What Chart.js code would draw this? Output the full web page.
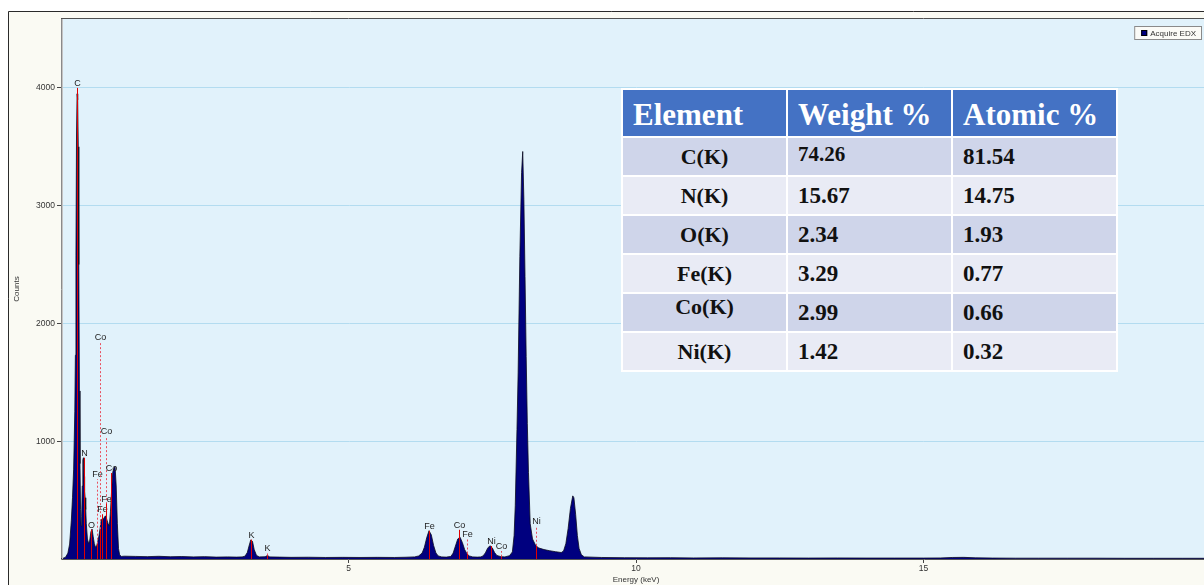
<!DOCTYPE html>
<html>
<head>
<meta charset="utf-8">
<title>EDX spectrum</title>
<script src="https://cdn.jsdelivr.net/npm/chart.js@4.4.1/dist/chart.umd.min.js"></script>
<style>
  html, body { margin: 0; padding: 0; background: #fff; overflow: hidden; width: 1204px; height: 585px; }
  #wrap { position: relative; width: 1215px; height: 585px; }
  #wrap canvas { position: absolute; left: 0; top: 0; }
  #quant {
    position: absolute; left: 621px; top: 88px;
    display: grid; grid-template-columns: 163px 163px 163px;
    grid-template-rows: 46px repeat(6, 37px);
    gap: 2px; padding: 2px; background: #fff;
    font-family: "Liberation Serif", "Times New Roman", serif; font-weight: bold; color: #111;
  }
  #quant div { display: flex; align-items: center; box-sizing: border-box; white-space: nowrap; }
  #quant .hd { background: #4472c4; color: #fff; font-size: 31px; padding: 3px 0 0 10px; }
  #quant .el { justify-content: center; font-size: 22px; }
  #quant .num { font-size: 23px; padding-left: 10px; }
  #quant .dark { background: #cfd5ea; }
  #quant .light { background: #e9ebf5; }
</style>
</head>
<body>
<div id="wrap">
  <canvas id="edx" width="1215" height="585"></canvas>
  <div id="quant"></div>
</div>
<script>
// Spectrum: energy channels (keV) and counts
const energyKeV = [
  0.00, 0.03, 0.08, 0.12, 0.15, 0.18, 0.20, 0.22, 0.24, 0.25, 0.26, 0.27, 0.28, 0.29, 0.30, 0.31, 0.32, 0.33, 0.34, 0.35,
  0.36, 0.37, 0.38, 0.39, 0.40, 0.41, 0.42, 0.43, 0.44, 0.46, 0.48, 0.50, 0.52, 0.54, 0.56, 0.58, 0.60, 0.62, 0.64,
  0.66, 0.68, 0.70, 0.72, 0.74, 0.76, 0.78, 0.80, 0.82, 0.84, 0.86, 0.88, 0.90, 0.92, 0.94, 0.96, 0.98, 1.00, 1.02,
  1.05, 1.10, 1.3, 1.5, 1.7, 1.9, 2.1, 2.3, 2.5, 2.7, 2.9, 3.05, 3.15,
  3.20, 3.24, 3.27, 3.30, 3.33, 3.36, 3.40, 3.45, 3.55, 3.59, 3.63, 3.8, 4.0, 4.3, 4.6, 4.9, 5.2, 5.5, 5.8, 6.0, 6.15,
  6.22, 6.28, 6.32, 6.36, 6.40, 6.44, 6.48, 6.52, 6.56, 6.62, 6.70,
  6.78, 6.82, 6.86, 6.90, 6.94, 6.98, 7.02, 7.06, 7.10, 7.16, 7.24, 7.30,
  7.34, 7.38, 7.42, 7.46, 7.50, 7.54, 7.58, 7.65, 7.72,
  7.80, 7.85, 7.88, 7.90, 7.93, 7.95, 7.98, 8.01, 8.03, 8.05, 8.07, 8.09, 8.11, 8.13, 8.16, 8.20, 8.25, 8.30,
  8.40, 8.50, 8.60, 8.70,
  8.74, 8.78, 8.82, 8.86, 8.90, 8.92, 8.95, 8.98, 9.01, 9.05, 9.10,
  9.4, 9.8, 10.2, 10.6, 11.0, 11.5, 12.0, 12.5, 13.0, 13.5, 14.0, 14.5, 15.0, 15.3, 15.5, 15.7, 15.9,
  16.2, 16.6, 17.0, 17.5, 18.0, 18.5, 19.0, 19.5, 20.0
];
const counts = [
  0, 5, 15, 50, 127, 330, 520, 763, 1250, 1730, 2580, 3600, 3950, 3900, 3500, 2500, 1427, 810, 420, 280,
  360, 620, 840, 860, 700, 580, 520, 420, 300, 170, 130, 160, 230, 254, 190, 130, 100, 110, 150,
  195, 260, 330, 345, 340, 360, 365, 330, 300, 280, 400, 580, 737, 770, 788, 620, 300, 90, 35,
  22, 24, 22, 20, 23, 19, 21, 18, 20, 16, 18, 16, 18,
  24, 55, 110, 162, 150, 80, 30, 18, 19, 30, 18, 16, 14, 15, 13, 14, 13, 14, 13, 15, 18,
  26, 50, 100, 180, 240, 205, 115, 52, 26, 18, 16,
  22, 50, 110, 170, 185, 140, 80, 45, 26, 18, 16, 18,
  26, 52, 92, 113, 95, 55, 30, 20, 18,
  28, 60, 200, 452, 1100, 1580, 2570, 3280, 3460, 3050, 2400, 1720, 1150, 735, 300, 170, 120, 95,
  80, 70, 62, 55,
  68, 130, 260, 430, 536, 520, 380, 200, 90, 36, 18,
  13, 11, 10, 11, 9, 10, 9, 9, 8, 9, 8, 8, 8, 9, 13, 14, 10,
  8, 7, 7, 7, 7, 6, 6, 6, 6
];
const seriesName = 'Acquire EDX';

// Element line markers: label, line energy (keV), marker height (counts)
const lineLabels   = ['C', 'N', 'O', 'Fe', 'Co', 'Fe', 'Co', 'Fe', 'Co', 'K', 'K', 'Fe', 'Co', 'Fe', 'Ni', 'Co', 'Ni'];
const lineEnergies = [0.277, 0.392, 0.525, 0.630, 0.678, 0.705, 0.776, 0.790, 0.870, 3.313, 3.590, 6.400, 6.930, 7.058, 7.478, 7.649, 8.265];
const lineHeights  = [4000, 860, 250, 680, 1840, 380, 1040, 470, 730, 165, 55, 240, 248, 170, 110, 68, 280];

// Axis ticks
const energyTicks = [5, 10, 15];
const countTicks = [1000, 2000, 3000, 4000];

// Quantification table
const tableHeaders = ['Element', 'Weight %', 'Atomic %'];
const tableElements = ['C(K)', 'N(K)', 'O(K)', 'Fe(K)', 'Co(K)', 'Ni(K)'];
const weightPercent = ['74.26', '15.67', '2.34', '3.29', '2.99', '1.42'];
const atomicPercent = ['81.54', '14.75', '1.93', '0.77', '0.66', '0.32'];

// Build the quantification table
(function buildTable() {
  const box = document.getElementById('quant');
  tableHeaders.forEach(h => {
    const d = document.createElement('div');
    d.className = 'hd';
    d.textContent = h;
    box.appendChild(d);
  });
  tableElements.forEach((el, i) => {
    const shade = i % 2 === 0 ? 'dark' : 'light';
    const cells = [[el, 'el'], [weightPercent[i], 'num'], [atomicPercent[i], 'num']];
    cells.forEach(([txt, cls], j) => {
      const d = document.createElement('div');
      d.className = cls + ' ' + shade;
      const s = document.createElement('span');
      s.textContent = txt;
      if (el === 'Co(K)' && j === 0) s.style.transform = 'translateY(-6px)';
      if (i === 0 && j === 1) { s.style.fontSize = '21px'; s.style.transform = 'translateY(-2px)'; }
      d.appendChild(s);
      box.appendChild(d);
    });
  });
})();

function spectrumAt(e) {
  for (let i = 1; i < energyKeV.length; i++) {
    if (energyKeV[i] >= e) {
      const t = (e - energyKeV[i - 1]) / (energyKeV[i] - energyKeV[i - 1]);
      return counts[i - 1] + t * (counts[i] - counts[i - 1]);
    }
  }
  return 0;
}

// Frame, panel background and plot border
const framePlugin = {
  id: 'frame',
  beforeDraw(chart) {
    const { ctx, width, height, chartArea: a } = chart;
    ctx.save();
    ctx.fillStyle = '#ffffff';
    ctx.fillRect(0, 0, width, height);
    ctx.fillStyle = '#fafaf3';
    ctx.fillRect(8, 11, width - 8, height - 11);
    ctx.strokeStyle = '#2a2a2a';
    ctx.lineWidth = 1;
    ctx.beginPath();
    ctx.moveTo(8.5, height);
    ctx.lineTo(8.5, 11.5);
    ctx.lineTo(width, 11.5);
    ctx.stroke();
    ctx.fillStyle = '#e1f2fb';
    ctx.fillRect(a.left, a.top, a.right - a.left, a.bottom - a.top);
    ctx.restore();
  },
  afterDraw(chart) {
    const { ctx, chartArea: a } = chart;
    ctx.save();
    ctx.lineWidth = 1;
    ctx.strokeStyle = '#505050';
    ctx.beginPath();
    ctx.moveTo(a.left, a.top - 0.5);
    ctx.lineTo(a.right, a.top - 0.5);
    ctx.stroke();
    ctx.strokeStyle = '#c4c4c4';
    ctx.beginPath();
    ctx.moveTo(a.left + 1.5, a.top);
    ctx.lineTo(a.left + 1.5, a.bottom);
    ctx.stroke();
    ctx.restore();
  }
};

// Element line markers with labels
const markerPlugin = {
  id: 'markers',
  afterDatasetsDraw(chart) {
    const { ctx, scales: { x, y } } = chart;
    const base = y.getPixelForValue(0);
    ctx.save();
    ctx.lineWidth = 1;
    lineLabels.forEach((lab, i) => {
      const px = Math.round(x.getPixelForValue(lineEnergies[i])) + 0.5;
      const h = lineHeights[i];
      const spec = spectrumAt(lineEnergies[i]);
      const solidTop = spec >= 0.6 * h ? h : spec;
      const ySolid = y.getPixelForValue(solidTop);
      const yTop = y.getPixelForValue(h);
      ctx.setLineDash([]);
      ctx.strokeStyle = '#e00000';
      ctx.beginPath();
      ctx.moveTo(px, base);
      ctx.lineTo(px, ySolid);
      ctx.stroke();
      if (ySolid > yTop + 0.5) {
        ctx.setLineDash([2, 2]);
        ctx.strokeStyle = '#e8505f';
        ctx.beginPath();
        ctx.moveTo(px, ySolid);
        ctx.lineTo(px, yTop);
        ctx.stroke();
      }
      ctx.setLineDash([]);
      ctx.fillStyle = '#222';
      ctx.font = '9px "Liberation Sans", Arial, sans-serif';
      ctx.textAlign = 'center';
      ctx.textBaseline = 'bottom';
      ctx.fillText(lab, px, yTop);
    });
    ctx.restore();
  }
};

// Boxed series legend in the top-right corner
const legendPlugin = {
  id: 'boxLegend',
  afterDraw(chart) {
    const { ctx } = chart;
    const ds = chart.data.datasets[0];
    ctx.save();
    ctx.font = '8px "Liberation Sans", Arial, sans-serif';
    const tw = ctx.measureText(ds.label).width;
    const right = 1202, top = 26, h = 14;
    const w = tw + 22;
    const left = right - w;
    ctx.fillStyle = '#fbfbf7';
    ctx.fillRect(left, top, w, h);
    ctx.strokeStyle = '#8a8a8a';
    ctx.lineWidth = 1;
    ctx.strokeRect(left + 0.5, top + 0.5, w - 1, h - 1);
    ctx.fillStyle = ds.backgroundColor;
    ctx.fillRect(left + 7, top + 4, 6, 6);
    ctx.strokeStyle = '#000';
    ctx.strokeRect(left + 7.5, top + 4.5, 5, 5);
    ctx.fillStyle = '#333';
    ctx.textBaseline = 'middle';
    ctx.textAlign = 'left';
    ctx.fillText(ds.label, left + 16, top + h / 2 + 0.5);
    ctx.restore();
  }
};

const tickFont = { family: '"Liberation Sans", Arial, sans-serif', size: 8.5 };
const titleFont = { family: '"Liberation Sans", Arial, sans-serif', size: 8 };

new Chart(document.getElementById('edx').getContext('2d'), {
  type: 'line',
  data: {
    datasets: [{
      label: seriesName,
      data: energyKeV.map((e, i) => ({ x: e, y: counts[i] })),
      fill: 'origin',
      backgroundColor: '#00007f',
      borderColor: '#0a0a20',
      borderWidth: 0.8,
      pointRadius: 0,
      tension: 0
    }]
  },
  options: {
    responsive: false,
    animation: false,
    devicePixelRatio: 1,
    layout: { padding: { left: 8, top: 19, right: 4, bottom: 0 } },
    plugins: { legend: { display: false }, tooltip: { enabled: false } },
    scales: {
      x: {
        type: 'linear', min: 0, max: 20,
        afterFit(s) { s.height = 26; },
        afterBuildTicks(s) { s.ticks = energyTicks.map(v => ({ value: v })); },
        ticks: { font: tickFont, color: '#333', padding: 1, maxRotation: 0, autoSkip: false, callback: v => String(v) },
        grid: { drawOnChartArea: false, drawTicks: true, tickLength: 4, tickColor: '#444' },
        border: { color: '#555', width: 1 },
        title: { display: true, text: 'Energy (keV)', font: titleFont, color: '#333', padding: { top: 0, bottom: 0 } }
      },
      y: {
        type: 'linear', min: 0, max: 4585,
        afterFit(s) { s.width = 53; },
        afterBuildTicks(s) { s.ticks = countTicks.map(v => ({ value: v })); },
        ticks: { font: tickFont, color: '#333', padding: 2, callback: v => String(v) },
        grid: { color: '#b3dcf0', tickColor: '#444', tickLength: 4 },
        border: { color: '#8a8a8a', width: 1 },
        title: { display: true, text: 'Counts', font: titleFont, color: '#333', padding: { top: 4, bottom: 0 } }
      }
    }
  },
  plugins: [framePlugin, markerPlugin, legendPlugin]
});
</script>
</body>
</html>
